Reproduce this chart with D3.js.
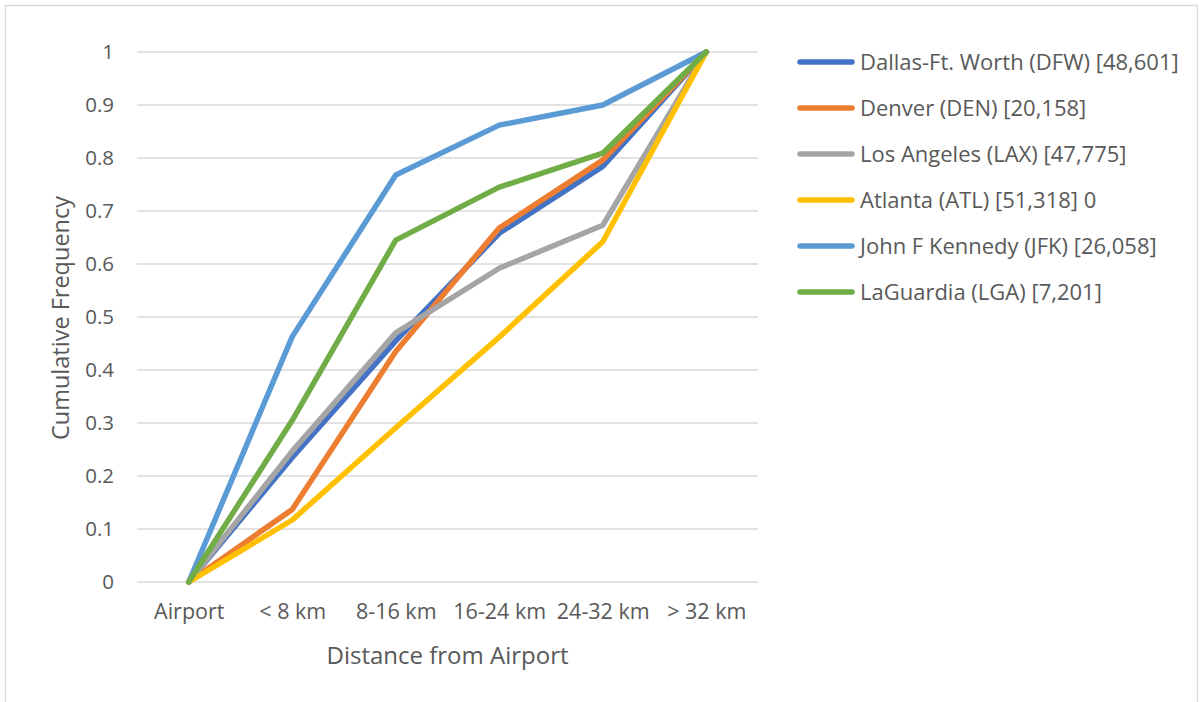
<!DOCTYPE html>
<html>
<head>
<meta charset="utf-8">
<script src="https://cdn.jsdelivr.net/npm/d3@7/dist/d3.min.js"></script>
<style>
  html, body { margin: 0; padding: 0; background: #fff; }
  svg text { font-family: "Open Sans", "Noto Sans", sans-serif; fill: #595959; }
</style>
</head>
<body>
<svg id="chart" width="1203" height="702"></svg>
<script>
// Distance bins from the airport
const categories = ["Airport", "< 8 km", "8-16 km", "16-24 km", "24-32 km", "> 32 km"];

// Cumulative frequency per airport
const dfw = [0, 0.235, 0.455, 0.658, 0.784, 1];
const den = [0, 0.137, 0.435, 0.668, 0.796, 1];
const lax = [0, 0.247, 0.470, 0.592, 0.673, 1];
const atl = [0, 0.117, 0.291, 0.462, 0.642, 1];
const jfk = [0, 0.463, 0.768, 0.862, 0.900, 1];
const lga = [0, 0.305, 0.645, 0.745, 0.809, 1];

const seriesNames = [
  "Dallas-Ft. Worth (DFW) [48,601]",
  "Denver (DEN) [20,158]",
  "Los Angeles (LAX) [47,775]",
  "Atlanta (ATL) [51,318] 0",
  "John F Kennedy (JFK) [26,058]",
  "LaGuardia (LGA) [7,201]"
];
const seriesValues = [dfw, den, lax, atl, jfk, lga];
const seriesColors = ["#4472C4", "#ED7D31", "#A5A5A5", "#FFC000", "#5B9BD5", "#70AD47"];

const yTicks = [0, 0.1, 0.2, 0.3, 0.4, 0.5, 0.6, 0.7, 0.8, 0.9, 1];

const svg = d3.select("#chart");

// outer chart frame
svg.append("rect")
  .attr("x", 5.5).attr("y", 5.5)
  .attr("width", 1192).attr("height", 700)
  .attr("fill", "#fff").attr("stroke", "#d9d9d9").attr("stroke-width", 1.5);

const plot = { left: 137, right: 758, top: 52, bottom: 582 };

const x = d3.scalePoint()
  .domain(categories)
  .range([plot.left, plot.right])
  .padding(0.5);

const y = d3.scaleLinear()
  .domain([0, 1])
  .range([plot.bottom, plot.top]);

// horizontal gridlines
svg.append("g")
  .selectAll("line")
  .data(yTicks)
  .join("line")
  .attr("x1", plot.left).attr("x2", plot.right)
  .attr("y1", d => y(d)).attr("y2", d => y(d))
  .attr("stroke", "#d9d9d9").attr("stroke-width", 1.5);

// y axis labels
const yAxis = svg.append("g")
  .attr("transform", `translate(${plot.left - 23},0)`)
  .call(d3.axisLeft(y).tickValues(yTicks).tickSize(0).tickPadding(0).tickFormat(d3.format("~g")));
yAxis.select(".domain").remove();
yAxis.selectAll("text")
  .attr("font-size", 20.5)
  .attr("fill", "#595959")
  .style("font-family", '"Open Sans", "Noto Sans", sans-serif');

// x axis labels
const xAxis = svg.append("g")
  .attr("transform", `translate(0,${plot.bottom + 22})`)
  .call(d3.axisBottom(x).tickSize(0).tickPadding(0));
xAxis.select(".domain").remove();
xAxis.selectAll("text")
  .attr("font-size", 21.5)
  .attr("fill", "#595959")
  .style("font-family", '"Open Sans", "Noto Sans", sans-serif');

// axis titles
svg.append("text")
  .attr("x", (plot.left + plot.right) / 2)
  .attr("y", 664)
  .attr("text-anchor", "middle")
  .attr("font-size", 24)
  .text("Distance from Airport");

svg.append("text")
  .attr("transform", `translate(69,${(plot.top + plot.bottom) / 2 + 1}) rotate(-90)`)
  .attr("text-anchor", "middle")
  .attr("font-size", 23.5)
  .text("Cumulative Frequency");

// series lines
const line = d3.line()
  .x((d, i) => x(categories[i]))
  .y(d => y(d));

svg.append("g")
  .selectAll("path")
  .data(seriesValues)
  .join("path")
  .attr("d", d => line(d))
  .attr("fill", "none")
  .attr("stroke", (d, i) => seriesColors[i])
  .attr("stroke-width", 5.5)
  .attr("stroke-linejoin", "round")
  .attr("stroke-linecap", "round");

// legend
const legend = svg.append("g")
  .selectAll("g")
  .data(seriesNames)
  .join("g")
  .attr("transform", (d, i) => `translate(798,${62 + i * 46})`);

legend.append("line")
  .attr("x1", 2).attr("x2", 54)
  .attr("y1", 0).attr("y2", 0)
  .attr("stroke", (d, i) => seriesColors[i])
  .attr("stroke-width", 5.5)
  .attr("stroke-linecap", "round");

legend.append("text")
  .attr("x", 62)
  .attr("y", 0)
  .attr("dy", "0.35em")
  .attr("font-size", 22)
  .text(d => d);
</script>
</body>
</html>
